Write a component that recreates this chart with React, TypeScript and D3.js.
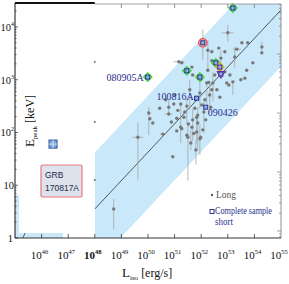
import React from 'react';
import * as d3 from 'd3';

// ---- data (log10 values) ----
// long GRBs: [log L_iso, log Epeak, err up, err down, err L]
const longPoints: number[][] = [
  [48.71, 0.55, 0.19, 0.38, 0], [49.62, 1.91, 0.28, 0.82, 0.2], [50.03, 2.37, 0.11, 0.42, 0],
  [50.07, 2.26, 0, 0, 0], [50.18, 2.18, 0, 0, 0], [50.56, 1.97, 0, 0, 0.12],
  [50.78, 2.35, 0, 0, 0.15], [50.78, 2.48, 0.13, 0.15, 0], [50.97, 2.54, 0, 0, 0],
  [51.23, 2.54, 0, 0.3, 0], [51.46, 2.5, 0.15, 0.35, 0], [51.08, 2.03, 0, 0, 0],
  [51.23, 2.1, 0.2, 0.3, 0], [51.5, 1.91, 0.23, 0.82, 0], [50.93, 1.54, 0, 0, 0],
  [51.61, 1.8, 0.25, 0.13, 0], [51.95, 2.75, 0.2, 0.3, 0], [52.14, 2.62, 0, 0, 0],
  [52.32, 2.71, 0.25, 0.35, 0], [51.76, 2.46, 0, 0, 0], [51.87, 2.33, 0, 0, 0],
  [51.68, 2.24, 0.2, 0.4, 0], [51.87, 2.18, 0.3, 0.5, 0], [51.65, 2.1, 0, 0, 0],
  [51.83, 2.01, 0, 0, 0], [51.95, 1.88, 0.27, 0.3, 0], [51.27, 2.07, 0, 0, 0],
  [53.0, 3.89, 0.15, 0.17, 0.22], [53.53, 3.7, 0, 0, 0], [53.75, 3.7, 0, 0, 0],
  [54.28, 3.62, 0.1, 0.1, 0], [54.28, 3.51, 0, 0, 0], [53.94, 3.32, 0, 0, 0],
  [53.26, 3.43, 0.2, 0.2, 0], [53.34, 3.58, 0, 0, 0.15], [52.89, 3.53, 0, 0, 0],
  [52.74, 3.41, 0.15, 0.3, 0], [52.59, 3.28, 0, 0, 0], [52.4, 3.53, 0, 0, 0],
  [52.4, 3.36, 0, 0, 0], [52.21, 2.94, 0, 0.4, 0], [52.44, 2.94, 0.2, 0.35, 0],
  [53.08, 3.09, 0, 0, 0], [53.19, 2.96, 0, 0.25, 0], [53.64, 3.03, 0, 0, 0],
  [52.96, 2.94, 0, 0, 0], [52.4, 2.81, 0, 0, 0], [51.68, 3.09, 0, 0, 0],
  [51.65, 3.24, 0, 0, 0], [51.27, 3.32, 0, 0, 0], [52.7, 2.67, 0, 0, 0],
  [51.16, 3.34, 0, 0, 0.2], [51.08, 2.27, 0, 0, 0], [51.35, 2.29, 0, 0, 0],
  [51.98, 1.91, 0, 0, 0], [51.46, 1.95, 0, 0, 0], [51.83, 2.29, 0, 0.5, 0],
  [52.36, 2.48, 0, 0, 0], [52.59, 2.81, 0, 0, 0], [53.04, 2.9, 0, 0, 0],
  [53.49, 3.0, 0, 0, 0], [53.71, 3.18, 0, 0, 0], [52.1, 2.39, 0.2, 0.4, 0],
  [52.17, 2.24, 0, 0, 0], [51.8, 1.67, 0.19, 0.28, 0], [52.06, 2.05, 0, 0, 0],
  [51.38, 2.39, 0, 0, 0], [52.25, 3.18, 0, 0, 0], [52.51, 3.09, 0, 0, 0],
  [52.66, 3.6, 0, 0, 0], [52.25, 3.56, 0.19, 0.38, 0], [51.98, 3.0, 0, 0, 0],
  [52.89, 3.15, 0, 0, 0], [51.57, 2.81, 0.19, 0.38, 0], [50.67, 2.62, 0, 0, 0],
  [51.8, 2.62, 0, 0, 0], [50.44, 2.46, 0, 0, 0], [51.01, 2.71, 0, 0, 0],
  [51.12, 2.42, 0, 0, 0], [51.52, 2.16, 0, 0, 0], [52.02, 2.52, 0, 0, 0],
  [51.72, 1.98, 0, 0, 0], [50.88, 2.2, 0, 0, 0], [52.28, 2.95, 0, 0, 0],
];

// complete-sample short GRBs: [log L, log Ep]
const greenShort: number[][] = [[53.19, 4.36], [51.46, 3.17], [51.95, 3.05], [52.55, 3.32], [49.99, 3.05]];
const redShort: number[][] = [[52.06, 3.7, 0.25, 0.32]];
const orangeShort: number[][] = [[52.7, 3.24]];
const magentaShort: number[][] = [[52.74, 3.11]];
const plainShort: number[][] = [[51.83, 2.65], [52.17, 2.48]];
const grb170817: number[] = [46.43, 1.78];
const leftMarks: number[] = [3.34, 2.2, 1.1];

const annoNames = ['080905A', '100816A', '090426'];
const annoPoints: number[][] = [[49.99, 3.05], [51.83, 2.65], [52.17, 2.48]];

// best fit: log Ep = a + b (log L - 48), band +/- w
const fitA = 0.55;
const fitB = 0.539;
const bandW = 1.07;

const xTickExps = [46, 47, 48, 49, 50, 51, 52, 53, 54, 55];
const yTickExps = [0, 1, 2, 3, 4];

const W = 289, H = 284;
const serif = 'Liberation Serif, Times New Roman, serif';

export default function App() {
  const x = d3.scaleLinear().domain([45, 55]).range([15, 281]);
  const y = d3.scaleLinear().domain([0, 4.436]).range([238, 4]);
  const yR = d3.scaleLinear().domain([-0.119, 3.85]).range([238, 4]);
  const left = 15, mid = x(48), right = x(55), top = y(4.436), bottom = y(0);

  const fit = (l: number) => fitA + fitB * (l - 48);
  const band = [
    [48, fit(48) + bandW], [55, fit(55) + bandW], [55, fit(55) - bandW], [48, fit(48) - bandW],
  ].map(([l, e]) => [x(l), y(e)] as [number, number]);
  const line = d3.line<number[]>().x(d => x(d[0])).y(d => y(d[1]));

  const rightTicks: { v: number; major: boolean }[] = [];
  for (let dec = -1; dec <= 3; dec++) {
    for (let k = 1; k <= 9; k++) {
      const v = dec + Math.log10(k);
      if (v >= -0.119 && v <= 3.85) rightTicks.push({ v, major: k === 1 });
    }
  }
  const leftTicks: { v: number; major: boolean }[] = [];
  for (let dec = 0; dec <= 4; dec++) {
    for (let k = 1; k <= 9; k++) {
      const v = dec + Math.log10(k);
      if (v <= 4.436) leftTicks.push({ v, major: k === 1 });
    }
  }

  const navy = '#2b2f8f';
  const sq = (cx: number, cy: number, key: string) => (
    <rect key={key} x={cx - 2} y={cy - 2} width={4} height={4} fill="#8fb0e0" stroke={navy} strokeWidth={1} />
  );
  const diamond = (cx: number, cy: number, r: number) => `${cx},${cy - r} ${cx + r},${cy} ${cx},${cy + r} ${cx - r},${cy}`;

  return (
    <svg width={W} height={H} style={{ position: 'absolute', left: 0, top: 0 }} fontFamily={serif}>
      <defs>
        <clipPath id="rp"><rect x={mid} y={top} width={right - mid} height={bottom - top} /></clipPath>
        <clipPath id="lp"><rect x={left} y={top} width={mid - left} height={bottom - top} /></clipPath>
      </defs>
      <rect width={W} height={H} fill="#fff" />
      {/* left panel blue remnants */}
      <rect x={left} y={195} width={4} height={bottom - 195} fill="#cce8f8" />
      <rect x={left} y={233} width={63 - left} height={5} fill="#cce8f8" />
      <line clipPath="url(#lp)" x1={x(45.26)} y1={y(-0.04)} x2={x(45.38)} y2={y(0.095)} stroke="#333" strokeWidth={0.8} />
      {/* band */}
      <polygon clipPath="url(#rp)" points={band.map(p => p.join(',')).join(' ')} fill="#c9e8fa" />
      <path clipPath="url(#rp)" d={line([[48, fit(48)], [55, fit(55)]]) || ''} stroke="#333" strokeWidth={0.8} fill="none" />
      {/* error bars */}
      <g stroke="#a6a6a6" strokeWidth={0.8}>
        {longPoints.map((p, i) => (
          <g key={i}>
            {(p[2] > 0 || p[3] > 0) && <line x1={x(p[0])} x2={x(p[0])} y1={y(p[1] + p[2])} y2={y(p[1] - p[3])} />}
            {p[4] > 0 && <line x1={x(p[0] - p[4])} x2={x(p[0] + p[4])} y1={y(p[1])} y2={y(p[1])} />}
          </g>
        ))}
        {redShort.map((p, i) => <line key={'r' + i} x1={x(p[0])} x2={x(p[0])} y1={y(p[1] + p[2])} y2={y(p[1] - p[3])} />)}
      </g>
      <g fill="#777">
        {longPoints.map((p, i) => <circle key={i} cx={x(p[0])} cy={y(p[1])} r={1.7} />)}
      </g>
      {/* left panel small marks */}
      {leftMarks.map((e, i) => <circle key={'lm' + i} cx={mid} cy={y(e)} r={0.9} fill="#555" />)}
      {/* special markers */}
      {greenShort.map((p, i) => {
        const cx = x(p[0]), cy = y(p[1]);
        return (
          <g key={'g' + i}>
            <polygon points={diamond(cx, cy, 4.2)} fill="#a8f0a8" stroke="#2ad42a" strokeWidth={1.2} />
            {sq(cx, cy, 'gs' + i)}
          </g>
        );
      })}
      {redShort.map((p, i) => {
        const cx = x(p[0]), cy = y(p[1]);
        return (
          <g key={'red' + i}>
            <circle cx={cx} cy={cy} r={4.2} fill="#f7b0b0" stroke="#e05050" strokeWidth={1.2} />
            {sq(cx, cy, 'rs' + i)}
          </g>
        );
      })}
      {orangeShort.map((p, i) => {
        const cx = x(p[0]), cy = y(p[1]);
        return (
          <g key={'o' + i}>
            <polygon points={diamond(cx, cy, 4.2)} fill="none" stroke="#f0a020" strokeWidth={1.3} />
            {sq(cx, cy, 'os' + i)}
          </g>
        );
      })}
      {magentaShort.map((p, i) => {
        const cx = x(p[0]), cy = y(p[1]);
        return (
          <g key={'m' + i}>
            <polygon points={`${cx - 4},${cy - 2.5} ${cx + 4},${cy - 2.5} ${cx},${cy + 4.5}`} fill="#d070e0" stroke="#9020b0" strokeWidth={1} />
            {sq(cx, cy, 'ms' + i)}
          </g>
        );
      })}
      {plainShort.map((p, i) => sq(x(p[0]), y(p[1]), 'p' + i))}
      {/* annotations */}
      <g fill={navy} fontSize={10}>
        <text x={x(annoPoints[0][0]) - 4} y={y(annoPoints[0][1]) + 3.5} textAnchor="end">{annoNames[0]}</text>
        <text x={x(annoPoints[1][0]) - 3} y={y(annoPoints[1][1]) + 1.5} textAnchor="end">{annoNames[1]}</text>
        <text x={x(annoPoints[2][0]) + 2} y={y(annoPoints[2][1]) + 9} textAnchor="start">{annoNames[2]}</text>
      </g>
      {/* GRB 170817A */}
      {(() => {
        const cx = x(grb170817[0]), cy = y(grb170817[1]);
        return (
          <g>
            <rect x={cx - 4} y={cy - 4} width={8} height={8} fill="#7fa8dc" stroke="#2a4f9a" strokeWidth={1} />
            <line x1={cx} x2={cx} y1={cy - 4} y2={cy + 4} stroke="#e8f0ff" strokeWidth={0.8} />
            <line x1={cx - 4} x2={cx + 4} y1={cy} y2={cy} stroke="#e8f0ff" strokeWidth={0.8} />
          </g>
        );
      })()}
      <rect x={41} y={165} width={41} height={32} rx={1.5} fill="#dde2ec" stroke="#e77a7a" strokeWidth={1.2} />
      <g fontFamily="Liberation Sans, Arial, sans-serif" fontSize={8.5} fill="#1e2a4a">
        <text x={45} y={178}>GRB</text>
        <text x={45} y={191}>170817A</text>
      </g>
      {/* legend */}
      <circle cx={212} cy={195} r={1.2} fill="#555" />
      <text x={216} y={198} fontSize={9.5} fill="#555">Long</text>
      <rect x={210} y={209.5} width={4} height={4} fill="none" stroke={navy} strokeWidth={1} />
      <text x={215} y={214} fontSize={9.5} fill={navy} textLength={57} lengthAdjust="spacingAndGlyphs">Complete sample</text>
      <text x={215} y={225} fontSize={9.5} fill={navy} textLength={18} lengthAdjust="spacingAndGlyphs">short</text>
      {/* frame */}
      <line x1={mid} x2={right} y1={top} y2={top} stroke="#888" strokeWidth={0.8} />
      <line x1={right} x2={right} y1={top} y2={bottom} stroke="#777" strokeWidth={0.8} />
      <line x1={left} x2={mid} y1={3} y2={3} stroke="#111" strokeWidth={2} />
      <line x1={left} x2={left} y1={3} y2={bottom} stroke="#111" strokeWidth={1} />
      <line x1={left} x2={right} y1={bottom} y2={bottom} stroke="#333" strokeWidth={1} />
      {/* top ticks */}
      {xTickExps.filter(e => e >= 49 && e <= 54).map(e => (
        <line key={'tt' + e} x1={x(e)} x2={x(e)} y1={top} y2={top + 4} stroke="#777" strokeWidth={0.8} />
      ))}
      {/* bottom ticks and labels */}
      {xTickExps.map(e => (
        <g key={'bx' + e}>
          {e < 55 && <line x1={x(e)} x2={x(e)} y1={bottom} y2={bottom - 4} stroke="#333" strokeWidth={0.8} />}
          <text x={x(e) - 2} y={259} textAnchor="middle" fontSize={11} fill="#111" fontWeight={e === 48 ? 'bold' : 'normal'}>
            10<tspan dy={-5} fontSize={6.5}>{e}</tspan>
          </text>
        </g>
      ))}
      {/* right ticks */}
      {rightTicks.map((t, i) => (
        <line key={'rt' + i} x1={right} x2={right - (t.major ? 4 : 2)} y1={yR(t.v)} y2={yR(t.v)} stroke="#777" strokeWidth={0.7} />
      ))}
      {/* left ticks and labels */}
      {leftTicks.map((t, i) => (
        <line key={'lt' + i} x1={left} x2={left + (t.major ? 3 : 1.5)} y1={y(t.v)} y2={y(t.v)} stroke="#222" strokeWidth={0.7} />
      ))}
      {yTickExps.map(e => (
        <text key={'yl' + e} x={e >= 1 ? 14 : 13} y={y(e) + 4} textAnchor="end" fontSize={10.5} fill="#111">
          {e === 0 ? '1' : '10'}
          {e >= 2 && <tspan dy={-5} fontSize={6}>{e}</tspan>}
        </text>
      ))}
      {/* axis titles */}
      <text transform="translate(34,121) rotate(-90)" textAnchor="middle" fill="#111">
        <tspan fontSize={13}>E</tspan><tspan fontSize={7} dy={3}>peak</tspan><tspan fontSize={12} dy={-3}> [keV]</tspan>
      </text>
      <text x={122} y={277} fill="#111">
        <tspan fontSize={13}>L</tspan><tspan fontSize={7} dy={3}>iso</tspan><tspan fontSize={12} dy={-3}> [erg/s]</tspan>
      </text>
    </svg>
  );
}
